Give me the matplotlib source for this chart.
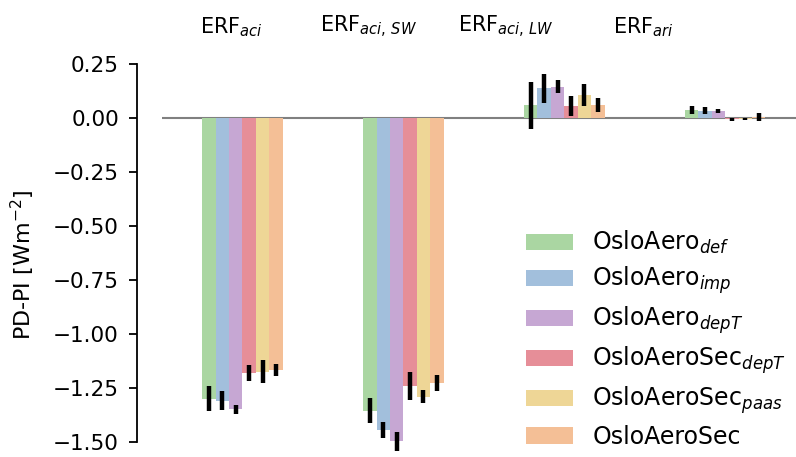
import matplotlib
matplotlib.use("Agg")
import matplotlib.pyplot as plt
import numpy as np

groups = ["ERF$_{aci}$", "ERF$_{aci,\\,SW}$", "ERF$_{aci,\\,LW}$", "ERF$_{ari}$"]
models = [
    "OsloAero$_{def}$",
    "OsloAero$_{imp}$",
    "OsloAero$_{depT}$",
    "OsloAeroSec$_{depT}$",
    "OsloAeroSec$_{paas}$",
    "OsloAeroSec",
]

# values per model across the four ERF components
oslo_def = [-1.300, -1.355, 0.058, 0.037]
oslo_imp = [-1.310, -1.444, 0.137, 0.034]
oslo_dept = [-1.350, -1.498, 0.145, 0.032]
sec_dept = [-1.180, -1.240, 0.055, -0.006]
sec_paas = [-1.175, -1.290, 0.107, -0.005]
sec = [-1.167, -1.228, 0.060, 0.004]

err_def = [0.058, 0.057, 0.110, 0.017]
err_imp = [0.044, 0.038, 0.066, 0.017]
err_dept = [0.020, 0.042, 0.031, 0.008]
err_sec_dept = [0.038, 0.065, 0.045, 0.008]
err_sec_paas = [0.053, 0.030, 0.052, 0.006]
err_sec = [0.030, 0.038, 0.032, 0.020]

values = [oslo_def, oslo_imp, oslo_dept, sec_dept, sec_paas, sec]
errors = [err_def, err_imp, err_dept, err_sec_dept, err_sec_paas, err_sec]
colors = ["#aad6a2", "#a2bfdc", "#c6a7d3", "#e68e98", "#eed696", "#f4bf96"]

W, H = 796, 457
fig = plt.figure(figsize=(W / 100, H / 100), dpi=100)
ax = fig.add_axes([162 / W, 0.0, 1 - 162 / W, 1 - 64 / H])

x = np.arange(len(groups))
width = 0.5 / len(models)
for i, (vals, errs, col, lab) in enumerate(zip(values, errors, colors, models)):
    pos = x + (i - 2.5) * width
    ax.bar(pos, vals, width=width, color=col, label=lab, linewidth=0)
    ax.errorbar(pos, vals, yerr=errs, fmt="none", ecolor="black", elinewidth=3.2, capsize=0)

ax.axhline(0, color="grey", linewidth=1.5, zorder=0.5)

ax.set_xlim(-0.5, 3.44)
ax.set_ylim(-1.57, 0.25)
ax.set_yticks(np.arange(-1.5, 0.26, 0.25))
ax.yaxis.set_major_formatter(
    matplotlib.ticker.FuncFormatter(lambda v, _: f"{v:.2f}".replace("-", "\u2212"))
)
ax.tick_params(axis="y", labelsize=15.5, width=1.3, length=6, pad=7)
ax.set_xticks([])
for s in ["top", "right", "bottom"]:
    ax.spines[s].set_visible(False)
ax.spines["left"].set_position(("outward", 18))
ax.spines["left"].set_bounds(-1.5, 0.25)
ax.spines["left"].set_linewidth(1.3)
ax.set_ylabel("PD-PI [Wm$^{-2}$]", fontsize=16)
ax.yaxis.set_label_coords(37 / W, 1 - 265 / H, transform=fig.transFigure)

for i, g in enumerate(groups):
    fig.text((231.5 + i * 137.2) / W, 1 - 27 / H, g, fontsize=15, ha="center", va="center")

ax.legend(loc="upper left", bbox_to_anchor=(505 / W, 1 - 208 / H), bbox_transform=fig.transFigure,
          frameon=False, fontsize=17, labelspacing=0.35)

fig.savefig("out.png", dpi=100)
